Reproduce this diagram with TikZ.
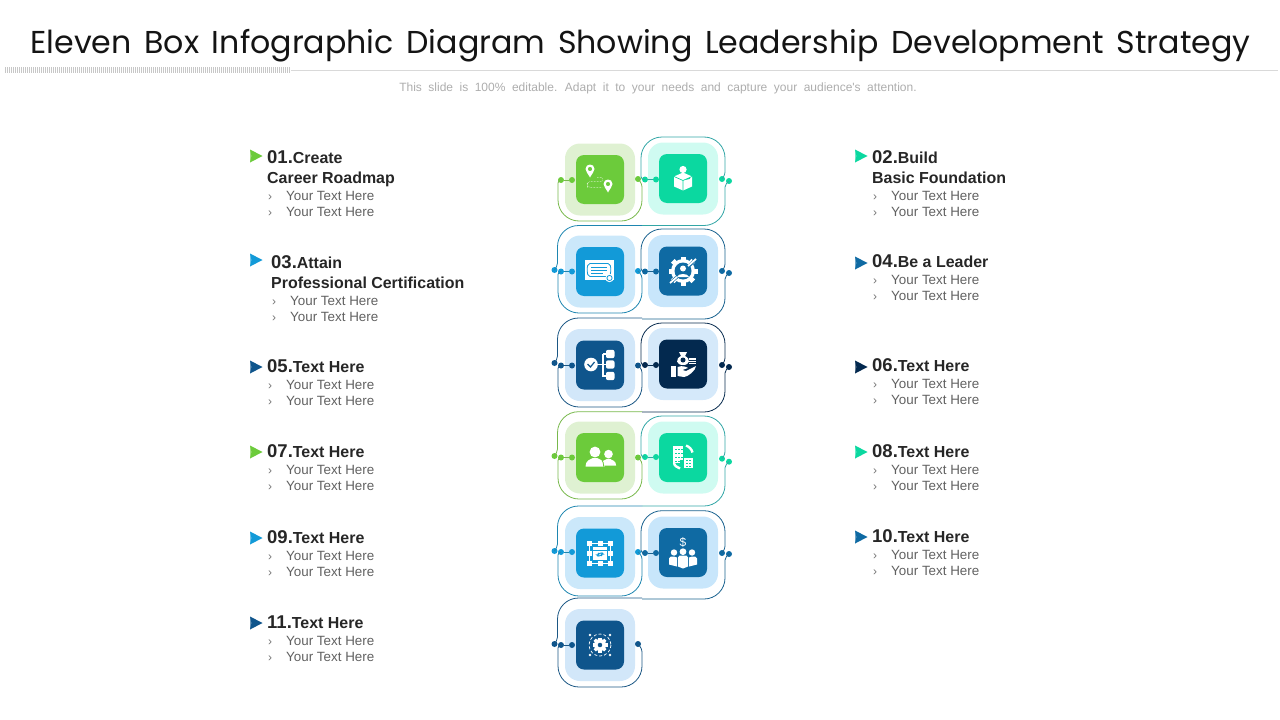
\documentclass[tikz,border=0pt]{standalone}
\usepackage{fontspec}
\setmainfont{Liberation Sans}
\newfontfamily\titlefont[WordSpace=1.5]{Poppins}
\newfontfamily\subfont[WordSpace=1.95]{Liberation Sans}

\definecolor{boxgreen}{HTML}{6CCB3B}\definecolor{lightboxgreen}{HTML}{DFF1D2}\definecolor{lineboxgreen}{HTML}{78B84C}
\definecolor{boxteal}{HTML}{0BD8A0}\definecolor{lightboxteal}{HTML}{CFFBF1}\definecolor{lineboxteal}{HTML}{32A6A6}
\definecolor{boxblue}{HTML}{129AD8}\definecolor{lightboxblue}{HTML}{CBE8FA}\definecolor{lineboxblue}{HTML}{1E86B0}
\definecolor{boxsteel}{HTML}{0F6AA3}\definecolor{lightboxsteel}{HTML}{C8E6FB}\definecolor{lineboxsteel}{HTML}{1A628F}
\definecolor{boxdark}{HTML}{0F558C}\definecolor{lightboxdark}{HTML}{D2E7F9}\definecolor{lineboxdark}{HTML}{1B5784}
\definecolor{boxnavy}{HTML}{03294F}\definecolor{lightboxnavy}{HTML}{D5E9FA}\definecolor{lineboxnavy}{HTML}{0A2D50}

\tikzset{
	lightbox/.style={minimum width=70pt,minimum height=72pt,rounded corners=15pt,inner sep=0pt},
	iconbox/.style={minimum width=48pt,minimum height=49pt,rounded corners=8pt,inner sep=0pt},
	dotmark/.style={circle,minimum size=6pt,inner sep=0pt},
	linkline/.style={line width=0.8pt},
	headtext/.style={anchor=base west,inner sep=0pt,text=black!85,font=\bfseries\fontsize{15.95}{18}\selectfont},
	bodytext/.style={anchor=base west,inner sep=0pt,text=black!62,font=\fontsize{13.4}{16}\selectfont},
	tiptext/.style={anchor=base west,inner sep=0pt,text=black!55,font=\fontsize{12}{14}\selectfont},
	playmark/.pic={
		\fill[pic actions] (0,-6.5)--(12.5,0)--(0,6.5)--(1.5,0)--cycle;
		\fill[pic actions,opacity=.6] (0,-6.5)--(0,6.5)--(4,0)--cycle;
	},
	mappin/.pic={
		\fill[white,even odd rule] (0,7) .. controls (-2,3) and (-4.5,1) .. (-4.5,-1.5) .. controls (-4.5,-7.5) and (4.5,-7.5) .. (4.5,-1.5) .. controls (4.5,1) and (2,3) .. (0,7) -- cycle (0,-1.5) circle[radius=2.2];
	},
	usermark/.pic={
		\fill[white] (0,-5.5) circle[radius=5.4];
		\fill[white] (-9.5,9) .. controls (-9.5,3) and (-5,2) .. (-2,0.5) -- (2,0.5) .. controls (5,2) and (9.5,3) .. (9.5,9) -- cycle;
	}
}

\begin{document}
\begin{tikzpicture}[x=1pt,y=-1pt]
\useasboundingbox (0,0) rectangle (1280,720);

\node[anchor=base,inner sep=0pt,font=\titlefont\fontsize{31.65}{38}\selectfont,text=black!92] (title) at (640.5,53) {Eleven Box Infographic Diagram Showing Leadership Development Strategy};
\node[anchor=base,inner sep=0pt,font=\subfont\fontsize{12}{14}\selectfont,text=black!32] (subtitle) at (658,91) {This slide is 100\% editable. Adapt it to your needs and capture your audience's attention.};
\coordinate (rulea) at (291,70);
\coordinate (ruleb) at (1278,70);
\draw[black!15,line width=0.8pt] (rulea)--(ruleb);
\foreach \a in {5,7,...,289}{
	\draw[black!22,line width=0.8pt] (\a,67)--(\a,73);
}

\foreach \n/\x/\y/\c in {a/600/179.5/boxgreen,b/683/178.5/boxteal,c/600/271.5/boxblue,d/683/271/boxsteel,e/600/365/boxdark,f/683/364/boxnavy,g/600/457.5/boxgreen,h/683/457.5/boxteal,i/600/553/boxblue,j/683/552.5/boxsteel,k/600/645/boxdark}{
	\node[lightbox,fill=light\c] (light\n) at (\x,{\y}) {};
	\node[iconbox,fill=\c] (icon\n) at (\x,{\y}) {};
}

\foreach \n/\y/\yb/\yo/\c in {a/180/221/179/boxgreen,c/271.5/313/271/boxblue,e/365.5/407/365.5/boxdark,g/457.5/499/457.5/boxgreen,i/552/596/552/boxblue,k/645/687/644/boxdark}{
	\node[dotmark,fill=\c] (in\n) at (572,\y) {};
	\node[dotmark,fill=\c] (mid\n) at (561,\y) {};
	\node[dotmark,fill=\c] (out\n) at (638,\yo) {};
	\draw[linkline,line\c] (in\n)--(mid\n);
	\draw[linkline,line\c] (mid\n.center) [rounded corners=3pt] -- (558,\y) [rounded corners=21pt] -- (558,\yb) -- (642,\yb) [rounded corners=3pt] -- (642,\y+4) -- (out\n.center);
}
\foreach \n/\yu/\yt/\c in {c/270/225.5/boxblue,e/363/318/boxdark,g/456/411.7/boxgreen,i/551/506/boxblue,k/644/598/boxdark}{
	\node[dotmark,fill=\c] (up\n) at (554.5,\yu) {};
	\draw[linkline,line\c] (up\n.center) [rounded corners=2pt] -- (557.5,\yu-5) [rounded corners=21pt] -- (557.5,\yt) -- (642,\yt);
}
\foreach \n/\y/\yt/\yo/\yr/\yb/\c in {b/179.5/137/179/181/225.5/boxteal,d/271.5/229/271/273/319/boxsteel,f/365/323/365/367/412/boxnavy,h/457/416/458.7/461.7/506/boxteal,j/553/510.7/553/554/599/boxsteel}{
	\node[dotmark,fill=\c] (in\n) at (656,\y) {};
	\node[dotmark,fill=\c] (mid\n) at (645,\y) {};
	\node[dotmark,fill=\c] (out\n) at (722,\yo) {};
	\node[dotmark,fill=\c] (tail\n) at (729,\yr) {};
	\draw[linkline,line\c] (in\n)--(mid\n);
	\draw[linkline,line\c] (mid\n.center) [rounded corners=3pt] -- (641,\y) [rounded corners=21pt] -- (641,\yt) -- (725,\yt) [rounded corners=3pt] -- (725,\yo-4) -- (out\n.center);
	\draw[linkline,line\c] (tail\n.center) [rounded corners=2pt] -- (725,\yr+4) [rounded corners=21pt] -- (725,\yb) -- (642,\yb);
}

\begin{scope}[shift={(icona.center)}]
	\pic at (-10,-9) {mappin};
	\pic at (8,6) {mappin};
	\draw[white,line width=0.5pt,densely dotted,rounded corners=2pt] (-3,-2) -- (3,-2) -- (3,2) -- (-12,2) -- (-13,5) -- (-12,8) -- (2,8);
\end{scope}
\begin{scope}[shift={(iconb.center)}]
	\fill[white] (0,-9) circle[radius=3.6];
	\fill[white] (-9,-2) -- (0,-6) -- (9,-2) -- (9,8) -- (0,12) -- (-9,8) -- cycle;
	\draw[boxteal,line width=0.7pt] (-9,-2) -- (0,2) -- (9,-2) (0,2) -- (0,12) (3,1) -- (7,0);
\end{scope}
\begin{scope}[shift={(iconc.center)}]
	\fill[white] (-15,-11.5) rectangle (14,8);
	\draw[boxblue,line width=0.8pt,rounded corners=2pt] (-12,-8) -- (10,-8) -- (11,-2) -- (10,5) -- (-12,5) -- (-13,-2) -- cycle;
	\draw[boxblue,line width=0.8pt] (-9,-4.5) -- (7,-4.5) (-9,-1.5) -- (7,-1.5) (-9,1.5) -- (3,1.5);
	\fill[white] (9.5,6.5) circle[radius=4.2];
	\draw[boxblue,line width=0.8pt] (9.5,6.5) circle[radius=2.6];
\end{scope}
\begin{scope}[shift={(icond.center)}]
	\foreach \t in {0,45,...,315}{
		\fill[white,rotate=\t] (-2.5,-14.5) rectangle (2.5,-10);
	}
	\fill[white] (0,0) circle[radius=12];
	\fill[boxsteel] (0,0) circle[radius=8.5];
	\fill[white] (0,-2.5) circle[radius=3];
	\fill[white] (-6,6) .. controls (-5,2) and (5,2) .. (6,6) -- cycle;
	\draw[boxsteel,line width=3pt] (6,-5) -- (13,-12) (-6,6) -- (-13,12);
	\draw[white,line width=1.8pt] (5,-5) -- (13,-12) (-6,6) -- (-13,12);
\end{scope}
\begin{scope}[shift={(icone.center)}]
	\fill[white] (-9,-0.5) circle[radius=6.8];
	\draw[boxdark,line width=1.2pt] (-12.5,-1) -- (-9.5,2) -- (-5.5,-3);
	\draw[white,line width=1.6pt] (-3,-0.5) -- (10,-0.5) (3,-11) -- (3,11) -- (10,11) (3,-11) -- (10,-11);
	\foreach \b in {-11,-0.5,11}{
		\fill[white,rounded corners=2pt] (6,\b-4.2) rectangle (14.5,\b+4.2);
	}
\end{scope}
\begin{scope}[shift={(iconf.center)}]
	\fill[white] (0,1) .. controls (-7,1) and (-8,-5) .. (-2,-8) -- (-4,-12) -- (4,-12) -- (2,-8) .. controls (8,-5) and (7,1) .. (0,1) -- cycle;
	\fill[boxnavy] (0,-4) circle[radius=2.5];
	\fill[white] (6,-6) rectangle (13,0);
	\draw[boxnavy,line width=0.6pt] (6,-4) -- (13,-4) (6,-2) -- (13,-2);
	\fill[white] (-12,2) rectangle (-7,13);
	\fill[white] (-5.5,3) .. controls (0,1) and (3,3) .. (5,4) -- (-0.5,6) -- (3,7) -- (13,2) .. controls (13,6) and (5,13) .. (1,13) -- (-5.5,12) -- cycle;
\end{scope}
\begin{scope}[shift={(icong.center)}]
	\pic at (-5,0) {usermark};
	\begin{scope}[shift={(8.5,1)},scale=0.8]
		\pic[transform shape] at (0,0) {usermark};
	\end{scope}
	\draw[boxgreen,line width=0.8pt] (3.5,9) .. controls (3.5,5) and (3,4) .. (2,3);
\end{scope}
\begin{scope}[shift={(iconh.center)}]
	\fill[white] (-10,-12) rectangle (0,2);
	\fill[white] (1,0) rectangle (10,10);
	\fill[white] (-10,2) rectangle (-3,10);
	\foreach \a in {-8,-5,-2}{
		\foreach \b in {-9,-5,-1,3}{
			\fill[boxteal] (\a,\b) rectangle (\a+1.5,\b+1.6);
		}
	}
	\foreach \a in {3,6}{
		\foreach \b in {2,5,8}{
			\fill[boxteal] (\a,\b) rectangle (\a+1.5,\b+1.4);
		}
	}
	\draw[white,line width=2.4pt] (3,-12) .. controls (6,-11) and (9,-8) .. (9.5,-5);
	\fill[boxteal] (-11,5) rectangle (0,11);
	\draw[white,line width=2.4pt] (-9,5) .. controls (-9,8) and (-6,10) .. (-3,11);
\end{scope}
\begin{scope}[shift={(iconi.center)}]
	\draw[white,line width=0.7pt] (-11,-10) rectangle (10,10);
	\foreach \a/\b in {-11/-10,0/-10,10/-10,-11/0,10/0,-11/10,0/10,10/10}{
		\fill[white] (\a-2.5,\b-2.5) rectangle (\a+2.5,\b+2.5);
	}
	\fill[white] (-7,-6) rectangle (7,7);
	\draw[boxblue,line width=0.7pt] (-7,-3) -- (7,-3);
	\draw[boxblue,line width=0.9pt,rounded corners=1pt] (-3,3) -- (0,0) -- (2,0) -- (3,1) -- (1,3) (3,0) -- (0,3) -- (-2,3) -- (-3,2) -- (-1,0);
\end{scope}
\begin{scope}[shift={(iconj.center)}]
	\node[inner sep=0pt,text=white,font=\fontsize{12}{12}\selectfont] (money) at (0,-10) {\$};
	\fill[white] (-9,0) circle[radius=3.2] (0,-0.8) circle[radius=3.4] (9,0) circle[radius=3.2];
	\fill[white] (-14,12) -- (-14,6) .. controls (-14,3.5) and (-11,4) .. (-9,4) -- (-6,5) -- (-6,14) -- cycle;
	\fill[white] (14,12) -- (14,6) .. controls (14,3.5) and (11,4) .. (9,4) -- (6,5) -- (6,14) -- cycle;
	\fill[white] (-5,5) .. controls (-5,3) and (-3,3) .. (0,3) .. controls (3,3) and (5,3) .. (5,5) -- (5,14) -- (0,16) -- (-5,14) -- cycle;
\end{scope}
\begin{scope}[shift={(iconk.center)}]
	\foreach \t in {0,45,...,315}{
		\fill[white,rotate=\t] (-1.6,-7.5) rectangle (1.6,-5);
	}
	\fill[white,even odd rule] (0,0) circle[radius=6] (0,0) circle[radius=2.4];
	\draw[white,line width=0.7pt,densely dashed] (0,0) circle[radius=11];
	\foreach \a/\b in {-10/-10,10/-10,-10/10,10/10}{
		\fill[white] (\a,\b) circle[radius=1.3];
	}
\end{scope}

\foreach \num/\x/\xm/\ym/\y/\yb/\c/\capt in {01/267/250/156/163/200/boxgreen/Create,02/872/855/156/163/200/boxteal/Build,03/271/250/260/268/305/boxblue/Attain,04/872/855/263/267/284/boxsteel/Be a Leader,05/267/250/367/372/389/boxdark/Text Here,06/872/855/367/371/388/boxnavy/Text Here,07/267/250/452/457/474/boxgreen/Text Here,08/872/855/452/457/474/boxteal/Text Here,09/267/250/538/543/560/boxblue/Text Here,10/872/855/537/542/559/boxsteel/Text Here,11/267/250/623/628/645/boxdark/Text Here}{
	\pic[fill=\c] (mark\num) at (\xm,\ym) {playmark};
	\node[headtext] (head\num) at (\x,\y) {{\fontsize{18.5}{20}\selectfont\num.}\capt};
	\node[tiptext] (tipa\num) at (\x+1,\yb) {›};
	\node[tiptext] (tipb\num) at (\x+1,\yb+16) {›};
	\node[bodytext] (texta\num) at (\x+19,\yb) {Your Text Here};
	\node[bodytext] (textb\num) at (\x+19,\yb+16) {Your Text Here};
}
\node[headtext] (sub01) at (267,183) {Career Roadmap};
\node[headtext] (sub02) at (872,183) {Basic Foundation};
\node[headtext] (sub03) at (271,288) {Professional Certification};
\end{tikzpicture}
\end{document}
